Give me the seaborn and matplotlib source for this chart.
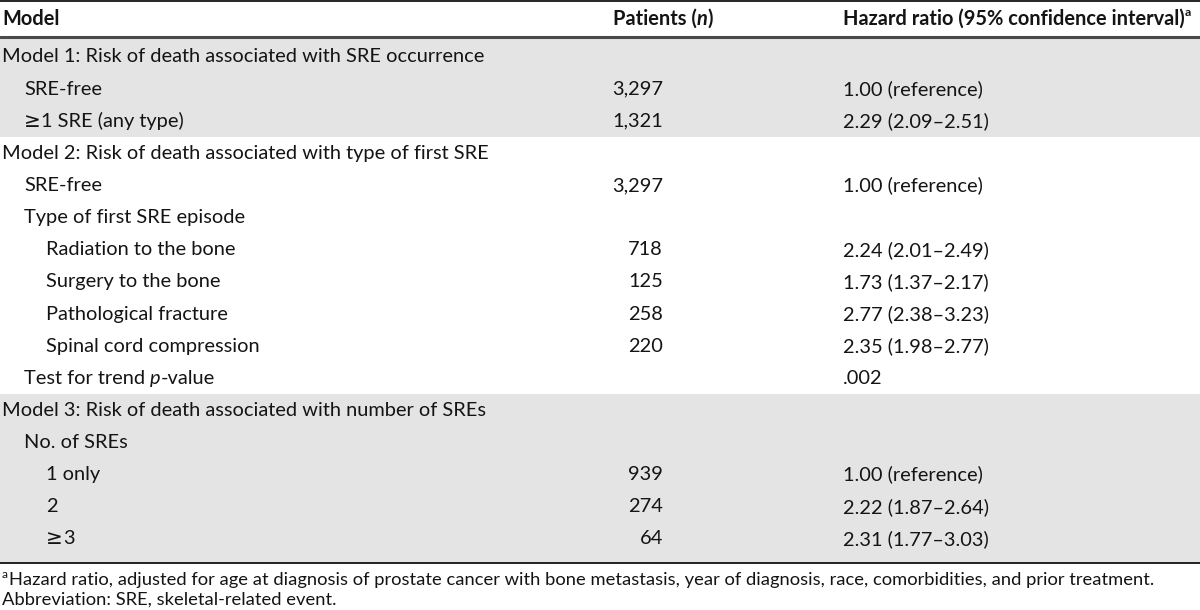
import matplotlib as mpl
mpl.use('Agg')
import matplotlib.pyplot as plt
import matplotlib.transforms as mtransforms
import seaborn as sns

# table contents
labels = [
    'Model 1: Risk of death associated with SRE occurrence',
    'SRE-free',
    '\u22651 SRE (any type)',
    'Model 2: Risk of death associated with type of first SRE',
    'SRE-free',
    'Type of first SRE episode',
    'Radiation to the bone',
    'Surgery to the bone',
    'Pathological fracture',
    'Spinal cord compression',
    'Test for trend |p|-value',
    'Model 3: Risk of death associated with number of SREs',
    'No. of SREs',
    '1 only',
    '2',
    '\u22653',
]
indent = [0, 1, 1, 0, 1, 1, 2, 2, 2, 2, 1, 0, 1, 2, 2, 2]
patients = ['', '3,297', '1,321', '', '3,297', '', '718', '125', '258', '220', '', '', '', '939', '274', '64']
hazard = ['', '1.00 (reference)', '2.29 (2.09\u20132.51)', '', '1.00 (reference)', '',
          '2.24 (2.01\u20132.49)', '1.73 (1.37\u20132.17)', '2.77 (2.38\u20133.23)',
          '2.35 (1.98\u20132.77)', '.002', '', '', '1.00 (reference)',
          '2.22 (1.87\u20132.64)', '2.31 (1.77\u20133.03)']
shaded = [True] * 3 + [False] * 8 + [True] * 5
footnotes = ['Hazard ratio, adjusted for age at diagnosis of prostate cancer with bone metastasis, '
             'year of diagnosis, race, comorbidities, and prior treatment.',
             'Abbreviation: SRE, skeletal-related event.']

sns.set_theme(style='white')
plt.rcParams['font.family'] = ['Lato', 'DejaVu Sans']

FS = 14.4
FN = 13.2
INK = '#141414'
GRAY = '#e4e4e4'

fig = plt.figure(figsize=(12, 6.1), dpi=100)
ax = fig.add_axes([0, 0, 1, 1])
ax.set_xlim(0, 1200)
ax.set_ylim(610, 0)
ax.axis('off')
renderer = fig.canvas.get_renderer()


def pieces(x, y, parts, size=FS, weight='normal'):
    # draw consecutive text pieces; '|' toggles italic, the >= sign uses DejaVu
    trans = ax.transData
    for i, part in enumerate(parts):
        if not part:
            continue
        chunks = [part]
        if part.startswith('\u2265'):
            chunks = ['\u2265', part[1:]]
        for c in chunks:
            fam = ['DejaVu Sans'] if c == '\u2265' else ['Lato', 'DejaVu Sans']
            t = ax.text(x, y, c, fontsize=size, weight=weight, color=INK, family=fam,
                        style='italic' if i % 2 else 'normal', va='center', ha='left',
                        transform=trans)
            w = t.get_window_extent(renderer).width
            trans = mtransforms.offset_copy(trans, fig=fig, x=w * 72 / fig.dpi, units='points')
    return trans


row_y = [57 + 32.13 * i for i in range(len(labels))]
edges = [38] + [(a + b) / 2 for a, b in zip(row_y[:-1], row_y[1:])] + [563]

for i, sh in enumerate(shaded):
    if sh:
        ax.axhspan(edges[i], edges[i + 1], color=GRAY, lw=0, zorder=0)

ax.axhline(1, color='black', lw=1.2)
ax.axhline(37, color='#4a4a4a', lw=2.2)
ax.axhline(563, color='black', lw=1.2)

# header
pieces(2, 19, ['Model'], weight='bold')
pieces(613, 19, ['Patients (', 'n', ')'], weight='bold')
tr = pieces(843, 19, ['Hazard ratio (95% confidence interval)'], weight='bold')
ax.text(843, 12, 'a', fontsize=FS * 0.62, weight='bold', color=INK, va='center',
        transform=tr)

for y, lab, ind, n, hr in zip(row_y, labels, indent, patients, hazard):
    pieces(2 + 22 * ind, y, lab.split('|'))
    if n:
        ax.text(663, y, n, fontsize=FS, color=INK, va='center', ha='right')
    if hr:
        ax.text(843, y, hr, fontsize=FS, color=INK, va='center', ha='left')

ax.text(2, 574, 'a', fontsize=FN * 0.65, color=INK, va='center')
ax.text(9, 580, footnotes[0], fontsize=FN, color=INK, va='center')
ax.text(2, 600, footnotes[1], fontsize=FN, color=INK, va='center')

fig.savefig('out.png', dpi=100)
